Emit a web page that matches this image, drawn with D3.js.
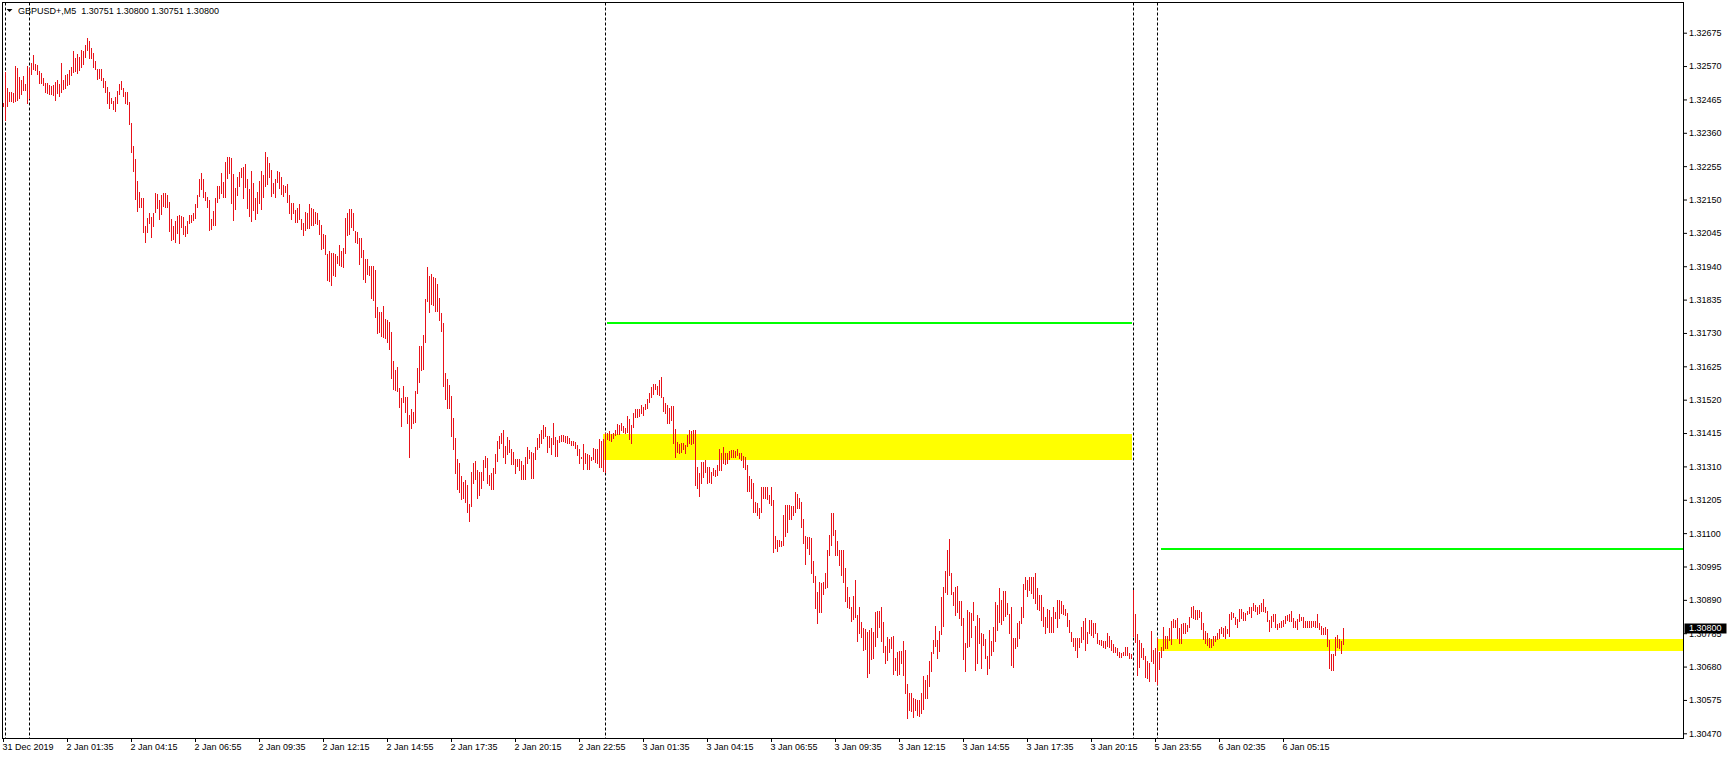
<!DOCTYPE html>
<html><head><meta charset="utf-8">
<script src="https://cdn.jsdelivr.net/npm/d3@7"></script>
<style>html,body{margin:0;padding:0;background:#fff;overflow:hidden}text{font-family:"Liberation Sans",Arial,sans-serif;font-size:9px;fill:#000}</style>
</head><body><svg id="c" width="1729" height="759"></svg>
<script>
// ---------- data ----------
const symbolTitle = "GBPUSD+,M5";
const lastBarOHLC = ["1.30751", "1.30800", "1.30751", "1.30800"];
const lastPrice = 1.30800;
const priceBase = 1.30000, point = 0.00001;   // bar values below are points above priceBase

const timeLabels = ["31 Dec 2019","2 Jan 01:35","2 Jan 04:15","2 Jan 06:55","2 Jan 09:35","2 Jan 12:15","2 Jan 14:55","2 Jan 17:35","2 Jan 20:15","2 Jan 22:55","3 Jan 01:35","3 Jan 04:15","3 Jan 06:55","3 Jan 09:35","3 Jan 12:15","3 Jan 14:55","3 Jan 17:35","3 Jan 20:15","5 Jan 23:55","6 Jan 02:35","6 Jan 05:15"];
const timeLabelBars = [0,32,64,96,128,160,192,224,256,288,320,352,384,416,448,480,512,544,576,608,640];
const priceTicks = [1.32675,1.32570,1.32465,1.32360,1.32255,1.32150,1.32045,1.31940,1.31835,1.31730,1.31625,1.31520,1.31415,1.31310,1.31205,1.31100,1.30995,1.30890,1.30785,1.30680,1.30575,1.30470];
const separatorBars = [1, 13, 301, 565, 577];

const zoneFromBars = [300, 577];
const zoneToBars = [564, null];
const zoneHigh = [1.31412, 1.30767];
const zoneLow = [1.31331, 1.30729];
const levelFromBars = [302, 579];
const levelToBars = [564, null];
const levelPrice = [1.31762, 1.31050];

const highPoints = [
2455,2552,2500,2488,2488,2486,2570,2565,2537,2526,
2539,2514,2570,2563,2581,2605,2575,2573,2554,2547,
2533,2518,2516,2511,2507,2510,2521,2526,2514,2581,
2526,2541,2544,2558,2568,2617,2596,2607,2600,2621,
2618,2636,2659,2649,2628,2612,2586,2561,2561,2561,
2533,2524,2505,2487,2468,2460,2474,2493,2513,2523,
2500,2487,2489,2458,2392,2318,2277,2208,2175,2156,
2154,2067,2091,2107,2096,2109,2170,2167,2148,2164,
2170,2170,2164,2143,2089,2067,2082,2098,2101,2098,
2096,2067,2082,2101,2101,2107,2136,2164,2214,2232,
2214,2173,2159,2148,2089,2114,2156,2194,2193,2232,
2206,2267,2283,2285,2282,2229,2185,2222,2236,2250,
2253,2261,2215,2182,2240,2203,2156,2173,2208,2240,
2227,2301,2285,2266,2243,2201,2214,2240,2238,2222,
2196,2193,2199,2164,2140,2140,2117,2122,2135,2088,
2075,2112,2107,2135,2124,2120,2112,2109,2086,2070,
2041,2038,1978,1989,1983,1983,1978,1972,2007,1988,
1996,2093,2109,2120,2120,2109,2051,2049,2028,2028,
1991,1962,1963,1941,1941,1941,1928,1813,1797,1797,
1815,1774,1771,1766,1732,1642,1613,1624,1556,1526,
1563,1530,1530,1472,1491,1482,1547,1619,1689,1689,
1724,1837,1937,1909,1915,1907,1902,1883,1839,1792,
1760,1603,1584,1565,1532,1463,1398,1333,1322,1280,
1262,1267,1251,1192,1293,1320,1328,1299,1293,1293,
1330,1343,1335,1283,1290,1304,1349,1390,1406,1414,
1425,1374,1404,1393,1364,1356,1332,1332,1333,1327,
1314,1341,1370,1362,1356,1351,1372,1398,1412,1425,
1440,1433,1406,1406,1398,1448,1404,1393,1406,1409,
1409,1406,1406,1398,1391,1390,1388,1377,1364,1341,
1381,1353,1349,1346,1339,1367,1365,1364,1395,1391,
1395,1416,1414,1421,1411,1414,1425,1443,1440,1448,
1437,1430,1470,1458,1440,1479,1490,1490,1490,1503,
1498,1505,1521,1540,1561,1569,1568,1563,1582,1592,
1529,1508,1503,1493,1500,1500,1428,1386,1379,1385,
1385,1377,1409,1425,1421,1425,1425,1309,1290,1325,
1325,1330,1309,1309,1293,1304,1299,1314,1364,1351,
1370,1353,1351,1358,1362,1362,1358,1365,1353,1351,
1344,1339,1314,1280,1269,1259,1199,1194,1180,1244,
1246,1246,1246,1220,1244,1204,1091,1078,1078,1075,
1157,1189,1189,1189,1185,1185,1228,1222,1209,1199,
1143,1091,1089,1087,1086,1012,965,916,947,942,
947,973,1047,1094,1162,1162,1110,1075,1047,1047,
1047,989,932,900,869,902,953,842,866,821,
800,797,790,795,802,790,853,856,856,866,
821,745,774,766,772,776,706,727,730,730,
762,732,625,596,598,580,577,575,575,596,
651,638,654,698,727,764,808,764,793,900,
930,981,1047,1082,974,916,930,934,885,887,
832,753,858,853,848,882,808,842,832,785,
783,766,714,795,761,804,882,874,928,890,
918,918,881,845,869,771,771,816,825,869,
940,963,953,961,963,963,976,926,905,905,
869,837,860,858,837,869,853,888,890,887,
874,860,848,827,790,769,769,771,769,806,
824,834,790,827,827,818,818,787,764,764,
759,759,787,776,764,750,743,738,727,724,
727,743,743,722,720,921,846,783,764,755,
740,714,699,692,792,732,738,769,727,743,
804,776,776,800,822,829,827,834,800,813,
816,818,811,837,867,871,858,858,858,853,
818,792,785,769,766,776,776,785,797,803,
800,808,797,846,851,850,837,830,860,860,
853,848,855,867,869,881,874,869,874,881,
893,869,855,827,839,846,845,813,816,822,
827,839,842,845,855,832,822,829,845,837,
835,822,822,822,822,825,822,846,818,808,
800,806,797,764,720,720,774,780,766,759,800];
const lowPoints = [
2444,2400,2444,2460,2460,2458,2461,2463,2468,2481,
2495,2495,2455,2468,2545,2560,2558,2545,2518,2516,
2510,2489,2484,2482,2482,2479,2463,2484,2477,2487,
2497,2500,2511,2514,2542,2552,2555,2549,2558,2568,
2575,2600,2621,2596,2594,2568,2561,2528,2533,2526,
2503,2489,2453,2439,2453,2435,2430,2453,2482,2498,
2477,2455,2451,2388,2298,2241,2152,2114,2127,2127,
2049,2017,2049,2075,2033,2067,2112,2124,2089,2103,
2131,2127,2127,2051,2023,2026,2015,2044,2014,2065,
2042,2036,2046,2075,2080,2086,2093,2127,2161,2183,
2159,2148,2127,2054,2056,2070,2070,2143,2154,2170,
2159,2159,2219,2232,2140,2085,2120,2164,2193,2222,
2156,2188,2124,2099,2083,2117,2089,2107,2140,2120,
2159,2194,2199,2222,2161,2170,2159,2206,2185,2166,
2162,2173,2143,2107,2089,2107,2080,2080,2088,2056,
2038,2054,2061,2061,2070,2070,2075,2072,2041,1994,
1996,1977,1897,1895,1881,1912,1909,1949,1944,1942,
1939,1983,2038,2040,2065,2054,2015,2012,1946,1970,
1899,1891,1916,1912,1841,1834,1779,1731,1734,1720,
1716,1713,1703,1678,1587,1553,1551,1547,1498,1438,
1512,1482,1448,1341,1430,1446,1451,1542,1577,1614,
1617,1703,1832,1797,1821,1818,1799,1799,1771,1736,
1563,1521,1495,1495,1406,1364,1290,1240,1230,1206,
1209,1199,1168,1139,1186,1257,1269,1210,1220,1241,
1267,1309,1257,1251,1238,1238,1290,1328,1369,1383,
1339,1320,1349,1356,1316,1316,1290,1311,1299,1269,
1269,1269,1320,1335,1272,1272,1332,1365,1372,1385,
1398,1406,1356,1372,1349,1379,1344,1344,1388,1391,
1391,1388,1385,1383,1377,1377,1367,1346,1320,1337,
1302,1322,1301,1302,1330,1332,1325,1322,1309,1307,
1297,1291,1395,1393,1390,1398,1409,1411,1412,1425,
1419,1414,1419,1395,1385,1435,1466,1466,1470,1477,
1472,1491,1493,1514,1529,1537,1553,1538,1535,1529,
1484,1479,1446,1446,1456,1385,1339,1356,1351,1356,
1365,1353,1374,1383,1380,1383,1251,1241,1217,1257,
1278,1293,1257,1262,1259,1283,1280,1283,1299,1299,
1320,1316,1320,1332,1341,1339,1341,1346,1335,1330,
1309,1302,1234,1234,1210,1168,1168,1157,1147,1168,
1209,1209,1206,1196,1188,1042,1052,1045,1061,1060,
1063,1092,1105,1143,1143,1157,1168,1178,1178,1120,
1070,1002,1054,1034,975,947,865,816,851,851,
907,926,932,1031,1063,1094,1031,1031,1000,968,
947,887,866,865,825,829,837,762,787,774,
732,734,648,661,703,706,745,774,806,762,
727,690,701,727,737,657,669,654,657,690,
654,598,517,543,541,522,543,528,524,533,
546,580,582,619,666,722,745,708,729,783,
808,914,909,968,909,874,843,853,834,811,
704,667,743,746,774,827,669,690,755,677,
748,706,657,675,715,729,762,795,821,814,
827,840,846,787,685,680,738,745,771,816,
837,923,902,921,911,895,879,860,858,827,
808,787,806,790,790,790,834,806,832,848,
845,842,809,790,759,745,732,711,743,756,
766,732,753,785,780,774,785,753,751,748,
743,738,745,743,732,727,727,717,711,711,
717,717,715,706,706,777,756,654,680,711,
703,646,643,636,696,690,636,624,672,711,
732,740,738,764,751,804,804,769,753,755,
785,787,792,806,837,832,830,830,837,798,
766,753,748,743,743,748,762,766,771,787,
776,769,785,777,829,835,813,806,822,834,
827,827,846,848,837,858,855,846,848,855,
856,853,824,792,803,822,806,798,803,806,
809,818,827,825,824,806,803,797,822,827,
806,806,806,806,806,808,806,804,798,783,
783,783,745,675,669,669,717,743,738,722,751];

// ---------- layout ----------
const frame = {left: 2.5, top: 2.5, right: 1683.5, bottom: 738.5};
const barStep = 2, firstBarX = 3;
const n = highPoints.length;
const toPrice = v => priceBase + v * point;

const svg = d3.select("#c");
svg.append("rect").attr("width", 1729).attr("height", 759).attr("fill", "#fff");

const x = d3.scaleLinear().domain([0, n - 1]).range([firstBarX, firstBarX + barStep * (n - 1)]);
const y = d3.scaleLinear()
  .domain([d3.min(priceTicks), d3.max(priceTicks)])
  .range([733.3, 32.7]);

const plot = svg.append("g");

// period separators
plot.selectAll("line.sep").data(separatorBars).join("line")
  .attr("class", "sep")
  .attr("x1", d => x(d) + 0.5).attr("x2", d => x(d) + 0.5)
  .attr("y1", frame.top).attr("y2", frame.bottom)
  .attr("stroke", "#000").attr("stroke-width", 1).attr("stroke-dasharray", "3,2");

// yellow zones
plot.selectAll("rect.zone").data(zoneFromBars).join("rect")
  .attr("class", "zone")
  .attr("x", d => x(d))
  .attr("width", (d, i) => (zoneToBars[i] === null ? frame.right : x(zoneToBars[i]) + 1) - x(d))
  .attr("y", (d, i) => Math.round(y(zoneHigh[i])))
  .attr("height", (d, i) => Math.round(y(zoneLow[i])) - Math.round(y(zoneHigh[i])))
  .attr("fill", "#ffff00");

// green levels
plot.selectAll("rect.level").data(levelFromBars).join("rect")
  .attr("class", "level")
  .attr("x", d => x(d))
  .attr("width", (d, i) => (levelToBars[i] === null ? frame.right : x(levelToBars[i]) + 1) - x(d))
  .attr("y", (d, i) => Math.round(y(levelPrice[i])) - 1)
  .attr("height", 2)
  .attr("fill", "#00ff00");

// price bars (high-low)
plot.selectAll("rect.bar").data(d3.range(n)).join("rect")
  .attr("class", "bar")
  .attr("shape-rendering", "crispEdges")
  .attr("x", k => x(k))
  .attr("width", 1)
  .attr("y", k => Math.round(y(toPrice(highPoints[k]))))
  .attr("height", k => Math.max(1, Math.round(y(toPrice(lowPoints[k]))) - Math.round(y(toPrice(highPoints[k]))) + 1))
  .attr("fill", "#e8121a");

// frame
svg.append("rect")
  .attr("x", frame.left).attr("y", frame.top)
  .attr("width", frame.right - frame.left).attr("height", frame.bottom - frame.top)
  .attr("fill", "none").attr("stroke", "#000").attr("stroke-width", 1);

// right price axis
const yAxis = d3.axisRight(y).tickValues(priceTicks).tickFormat(d3.format(".5f")).tickSize(4).tickPadding(2);
const gy = svg.append("g").attr("transform", `translate(${frame.right - 0.5},0)`).call(yAxis);
gy.select(".domain").remove();
gy.selectAll(".tick line").attr("stroke", "#000");
gy.selectAll(".tick text").attr("fill", "#000").attr("font-size", 9).attr("font-family", '"Liberation Sans",Arial,sans-serif');

// bottom time axis
const xAxis = d3.axisBottom(x).tickValues(timeLabelBars).tickFormat((d, i) => timeLabels[i]).tickSize(4).tickPadding(2);
const gx = svg.append("g").attr("transform", `translate(0,${frame.bottom - 0.5})`).call(xAxis);
gx.select(".domain").remove();
gx.selectAll(".tick line").attr("stroke", "#000");
gx.selectAll(".tick text").attr("text-anchor", "start").attr("x", -1).attr("fill", "#000")
  .attr("font-size", 9).attr("font-family", '"Liberation Sans",Arial,sans-serif');

// last price label
const lpY = y(lastPrice);
svg.append("rect").attr("x", frame.right + 1).attr("y", Math.round(lpY) - 4.5).attr("width", 42).attr("height", 10).attr("fill", "#000");
svg.append("text").attr("x", frame.right + 5.5).attr("y", lpY).attr("dy", "0.32em")
  .style("fill", "#fff").text(d3.format(".5f")(lastPrice));

// header
svg.append("path").attr("d", "M6.5,9L12.5,9L9.5,12Z").attr("fill", "#000");
svg.append("text").attr("x", 18).attr("y", 14).style("white-space", "pre")
  .text(symbolTitle + "  " + lastBarOHLC.join(" "));
</script>
</body></html>
